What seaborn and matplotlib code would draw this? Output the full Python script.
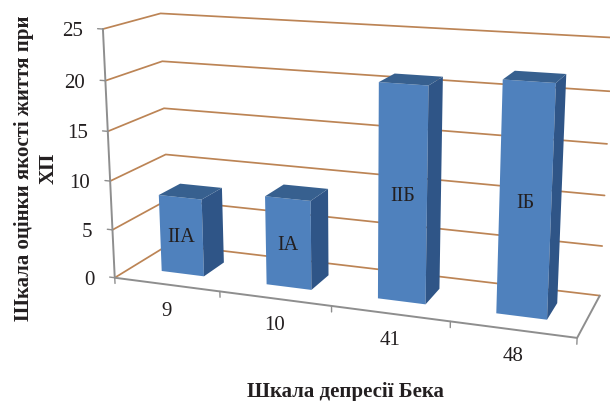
import numpy as np
import pandas as pd
import matplotlib
matplotlib.use("Agg")
import matplotlib.pyplot as plt
from matplotlib.transforms import Affine2D, Transform
import seaborn as sns

# Chart content
depression_scores = ["9", "10", "41", "48"]
quality_scores = [8, 9, 21, 22]
group_labels = ["ІІА", "ІА", "ІІБ", "ІБ"]
value_ticks = [0, 5, 10, 15, 20, 25]
x_title = "Шкала депресії Бека"
y_title = "Шкала оцінки якості життя при\nХП"

WIDTH, HEIGHT = 610, 401
VALUE_MAX = 25
BAR_WIDTH = 0.41
BAR_FRONT, BAR_BACK = 0.30, 0.70

FRONT_COLOR = "#4F81BD"
SIDE_COLOR = "#2F5587"
TOP_COLOR = "#37608F"
GRID_COLOR = "#BC8455"
AXIS_COLOR = "#8E8E8E"
TEXT_COLOR = "#231F20"

sns.set_theme(style="white")
plt.rcParams["font.family"] = ["Liberation Serif", "DejaVu Serif"]

# Camera calibration: box corners (across, depth, height) and where they land on the canvas
box_corners = np.array([
    (0, 0, 0), (1, 0, 0), (1, 1, 0), (0, 1, 0),
    (0, 0, 1), (0, 1, 1), (1, 1, 1),
    (.25, 0, 0), (.5, 0, 0), (.75, 0, 0),
], float)
canvas_corners = np.array([
    (115.5, 277), (577, 338), (600, 295), (168, 245),
    (102, 29), (161.5, 13.5), (612, 37.5),
    (220, 291), (332, 306.5), (450, 322),
], float)


def fit_camera(world, image):
    rows = []
    for (a, b, c), (px, py) in zip(world, image):
        rows.append([a, b, c, 1, 0, 0, 0, 0, -px * a, -px * b, -px * c, -px])
        rows.append([0, 0, 0, 0, a, b, c, 1, -py * a, -py * b, -py * c, -py])
    return np.linalg.svd(np.array(rows))[2][-1].reshape(3, 4)


CAMERA = fit_camera(box_corners, canvas_corners)


def project(slot, depth, value):
    """Category slot (-0.5..3.5), floor depth (0..1), chart value -> canvas pixels."""
    slot, depth, value = np.broadcast_arrays(slot, depth, value)
    world = np.stack([(slot + 0.5) / len(depression_scores), depth,
                      value / VALUE_MAX, np.ones(slot.shape)], axis=-1)
    out = world @ CAMERA.T
    return out[..., :2] / out[..., 2:]


class DepthPlane(Transform):
    """Maps (category, value) on a plane of constant depth to canvas pixels."""
    input_dims = output_dims = 2
    is_separable = False
    has_inverse = False

    def __init__(self, plane_depth):
        super().__init__()
        self.plane_depth = plane_depth

    def transform_non_affine(self, values):
        values = np.asarray(values, float)
        return project(values[:, 0], self.plane_depth, values[:, 1])


fig = plt.figure(figsize=(WIDTH / 100, HEIGHT / 100), dpi=100)
ax = fig.add_axes([0, 0, 1, 1])
canvas = Affine2D().scale(1 / WIDTH, -1 / HEIGHT).translate(0, 1) + fig.transFigure


def polyline(slots, depths, values, **style):
    pts = project(np.array(slots, float), np.array(depths, float), np.array(values, float))
    ax.plot(pts[:, 0], pts[:, 1], transform=canvas, solid_capstyle="round", **style)


# Walls: gridlines run along the left wall and then across the back wall
left, right = -0.5, len(depression_scores) - 0.5
for tick in value_ticks:
    polyline([left, left, right], [0, 1, 1], [tick] * 3, color=GRID_COLOR, lw=1.25, zorder=1)

# Floor outline, axes and tick stubs
polyline([left, right, right], [0, 0, 1], [0, 0, 0], color=AXIS_COLOR, lw=1.4, zorder=2)
polyline([left, left], [0, 0], [0, VALUE_MAX], color=AXIS_COLOR, lw=1.4, zorder=2)
for edge in np.arange(left, right + 1):
    polyline([edge, edge], [0, 0], [0, -0.6], color=AXIS_COLOR, lw=1.0, zorder=2)
for tick in value_ticks:
    polyline([left, left - 0.05], [0, 0], [tick, tick], color=AXIS_COLOR, lw=1.0, zorder=2)

# Front faces come from seaborn; depth faces are extruded from each bar
table = pd.DataFrame({"score": depression_scores, "quality": quality_scores})
sns.barplot(data=table, x="score", y="quality", order=depression_scores, color=FRONT_COLOR,
            saturation=1, width=BAR_WIDTH, ax=ax, zorder=5, linewidth=0)

front_plane = DepthPlane(BAR_FRONT)
for i, patch in enumerate(ax.patches):
    patch.set_transform(front_plane + canvas)
    patch.set_zorder(5 + i)
    x0, x1 = patch.get_x(), patch.get_x() + patch.get_width()
    h = patch.get_height()
    side = project(np.array([x1, x1, x1, x1]), np.array([BAR_FRONT, BAR_BACK, BAR_BACK, BAR_FRONT]),
                   np.array([0, 0, h, h]))
    top = project(np.array([x0, x1, x1, x0]), np.array([BAR_FRONT, BAR_FRONT, BAR_BACK, BAR_BACK]),
                  np.array([h, h, h, h]))
    ax.fill(side[:, 0], side[:, 1], color=SIDE_COLOR, lw=0, transform=canvas, zorder=5 + i)
    ax.fill(top[:, 0], top[:, 1], color=TOP_COLOR, lw=0, transform=canvas, zorder=5 + i)
    ax.annotate(group_labels[i], xy=(i, h / 2), xycoords=front_plane + canvas,
                xytext=(0, -2), textcoords="offset pixels",
                ha="center", va="center", fontsize=14.5, color=TEXT_COLOR, zorder=20)

# Tick labels sit at a fixed offset from the projected axis
floor_plane = DepthPlane(0.0) + canvas
for i, label in enumerate(depression_scores):
    ax.annotate(label, xy=(i, 0), xycoords=floor_plane, xytext=(0, -27), textcoords="offset pixels",
                ha="center", va="center", fontsize=15, color=TEXT_COLOR)
for tick in value_ticks:
    ax.annotate(str(tick), xy=(left, tick), xycoords=floor_plane, xytext=(-20, -2.5), textcoords="offset pixels",
                ha="right", va="center", fontsize=15, color=TEXT_COLOR)

# Axis titles
fig.text(345 / WIDTH, 1 - 392.5 / HEIGHT, x_title, ha="center", va="center",
         fontsize=15, fontweight="bold", color=TEXT_COLOR)
fig.text(36.5 / WIDTH, 1 - 168 / HEIGHT, y_title, ha="center", va="center", rotation=90,
         rotation_mode="anchor", multialignment="center", linespacing=1.29,
         fontsize=15, fontweight="bold", color=TEXT_COLOR)

ax.set_xlim(left, right)
ax.set_ylim(0, VALUE_MAX)
ax.set_axis_off()
fig.savefig("out.png", dpi=100, facecolor="white")
